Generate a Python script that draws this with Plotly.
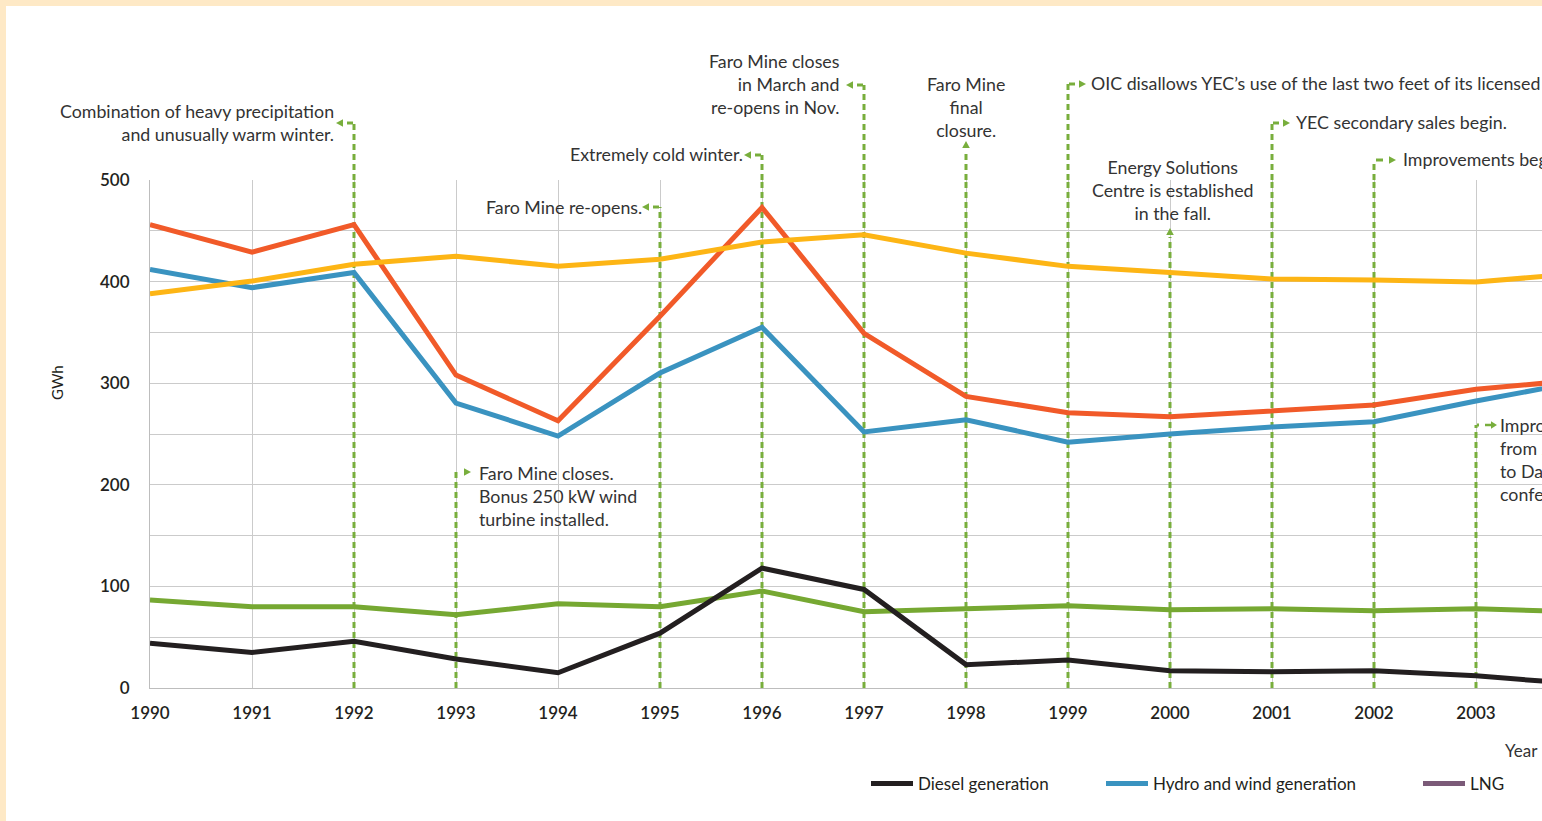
import plotly.graph_objects as go

# ---------------- data ----------------
years = [1990, 1991, 1992, 1993, 1994, 1995, 1996, 1997, 1998, 1999, 2000, 2001, 2002, 2003, 2004]
diesel = [44, 35, 46, 28.5, 15, 54, 118, 97, 23, 27.5, 17, 16, 17, 12, 4]
hydro_wind = [412, 394, 409, 280.5, 248, 310, 355, 252, 264, 242, 250, 257, 262, 282.5, 301]
lng = [None, None, None, None, None, None, None, None, None, None, None, None, None, None, None]
total_generation = [456, 429, 456, 308, 263, 366, 473, 349, 287, 271, 267, 273, 278.5, 294, 303]
yellow_series = [388, 400.5, 417, 425, 415, 422, 439, 446, 428, 415, 409, 402.5, 401.5, 399.5, 408]
green_series = [86.6, 80, 80, 72, 83, 80, 95.5, 75, 78, 81, 77, 78, 76, 78, 75]

y_tick_values = [0, 100, 200, 300, 400, 500]
x_tick_values = [1990, 1991, 1992, 1993, 1994, 1995, 1996, 1997, 1998, 1999, 2000, 2001, 2002, 2003]

event_years = [1992, 1993, 1995, 1996, 1997, 1998, 1999, 2000, 2001, 2002, 2003]
event_texts = [
    "Combination of heavy precipitation<br>and unusually warm winter.",
    "Faro Mine closes.<br>Bonus 250 kW wind<br>turbine installed.",
    "Faro Mine re-opens.",
    "Extremely cold winter.",
    "Faro Mine closes<br>in March and<br>re-opens in Nov.",
    "Faro Mine<br>final<br>closure.",
    "OIC disallows YEC\u2019s use of the last two feet of its licensed storage.",
    "Energy Solutions<br>Centre is established<br>in the fall.",
    "YEC secondary sales begin.",
    "Improvements begin.",
    "Improvements<br>from 2003<br>to Dawson<br>conference.",
]

# ---------------- layout geometry (pixels) ----------------
W, H = 1542, 821
PL, PR, PT, PB = 150, 1542, 180, 688
X0 = 1990
PX_PER_YEAR = 102.0
X1 = X0 + (PR - PL) / PX_PER_YEAR
Y_MAX = 500

def py2paper(py):
    return (PB - py) / (PB - PT)

def px2paper(px):
    return (px - PL) / (PR - PL)

def dyr(dpx):
    return dpx / PX_PER_YEAR

# per-event drawing style: (top of line px, arrow direction, text x offset px, text anchor, text center y px)
event_style = [
    (123, "left", -18, "right", 123),
    (471, "right0", 21, "left", 496),
    (207, "left", -16, "right", 207),
    (155, "left", -17, "right", 154),
    (85, "left", -23, "right", 84.5),
    (150, "up", 0, "center", 106.5),
    (84, "right", 21, "left", 83),
    (237, "up", 3, "center", 190.5),
    (123, "right", 22, "left", 122),
    (160, "right2", 27, "left", 159),
    (425, "rightsolid", 22, "left", 459),
]

GREEN_DASH = "#78AE3C"
TEXT_COLOR = "#333333"
FONT = "Lato"
ANN_SIZE = 17.8
DASH = dict(color=GREEN_DASH, width=3, dash="6px,4px")

fig = go.Figure()

fig.add_trace(go.Scatter(x=years, y=hydro_wind, mode="lines", name="Hydro and wind generation",
                         line=dict(color="#3A93C0", width=5), legend="legend2"))
fig.add_trace(go.Scatter(x=years, y=total_generation, mode="lines", name="Total generation",
                         line=dict(color="#F15A29", width=5), showlegend=False))
fig.add_trace(go.Scatter(x=years, y=yellow_series, mode="lines", name="Series 5",
                         line=dict(color="#FDB515", width=5), showlegend=False))
fig.add_trace(go.Scatter(x=years, y=green_series, mode="lines", name="Series 6",
                         line=dict(color="#76A832", width=5), showlegend=False))
fig.add_trace(go.Scatter(x=years, y=diesel, mode="lines", name="Diesel generation",
                         line=dict(color="#231F20", width=5), legend="legend"))
fig.add_trace(go.Scatter(x=years, y=lng, mode="lines", name="LNG",
                         line=dict(color="#7B5A78", width=5), legend="legend3"))

LAYER = "between"
shapes = []
annotations = []
for yr, txt, (top, direction, tx, anchor, ty) in zip(event_years, event_texts, event_style):
    ytop = py2paper(top)
    # vertical dashed guide: inside the plot area on data axes (drawn between grid and traces)
    if top >= PT:
        shapes.append(dict(type="line", xref="x", yref="y", x0=yr, x1=yr, y0=0, y1=ytop * Y_MAX,
                           line=DASH, layer=LAYER))
    else:
        shapes.append(dict(type="line", xref="x", yref="y", x0=yr, x1=yr, y0=0, y1=Y_MAX,
                           line=DASH, layer=LAYER))
        shapes.append(dict(type="line", xref="x", yref="paper", x0=yr, x1=yr, y0=1, y1=ytop,
                           line=DASH, layer="above"))
    h = 3.8 / (PB - PT)
    if direction == "left":
        shapes.append(dict(type="line", xref="x", yref="paper", x0=yr - dyr(1), x1=yr - dyr(7),
                           y0=ytop, y1=ytop, line=dict(color=GREEN_DASH, width=3), layer="above"))
        b, t = yr - dyr(11), yr - dyr(18)
        shapes.append(dict(type="path", xref="x", yref="paper",
                           path=f"M{b},{ytop + h} L{t},{ytop} L{b},{ytop - h} Z",
                           fillcolor=GREEN_DASH, line=dict(width=0), layer="above"))
    elif direction in ("right", "right2", "rightsolid"):
        if direction == "right":
            d0, d1, b, t = 1, 7, 11, 18
        elif direction == "right2":
            d0, d1, b, t = 2, 9, 15, 22
        else:
            d0, d1, b, t = 1, 16, 15, 21
        if direction == "rightsolid":
            shapes.append(dict(type="line", xref="x", yref="paper", x0=yr + dyr(d0), x1=yr + dyr(3),
                               y0=ytop, y1=ytop, line=dict(color=GREEN_DASH, width=3), layer="above"))
            shapes.append(dict(type="line", xref="x", yref="paper", x0=yr + dyr(9), x1=yr + dyr(16),
                               y0=ytop, y1=ytop, line=dict(color=GREEN_DASH, width=2.5), layer="above"))
        else:
            shapes.append(dict(type="line", xref="x", yref="paper", x0=yr + dyr(d0), x1=yr + dyr(d1),
                               y0=ytop, y1=ytop, line=dict(color=GREEN_DASH, width=3), layer="above"))
        bx, tx_ = yr + dyr(b), yr + dyr(t)
        shapes.append(dict(type="path", xref="x", yref="paper",
                           path=f"M{bx},{ytop + h} L{tx_},{ytop} L{bx},{ytop - h} Z",
                           fillcolor=GREEN_DASH, line=dict(width=0), layer="above"))
    elif direction == "right0":
        bx, tx_ = yr + dyr(8), yr + dyr(15)
        yy = py2paper(top + 1)
        shapes.append(dict(type="path", xref="x", yref="paper",
                           path=f"M{bx},{yy + h} L{tx_},{yy} L{bx},{yy - h} Z",
                           fillcolor=GREEN_DASH, line=dict(width=0), layer="above"))
    elif direction == "up":
        hw = dyr(3.8)
        tip = py2paper(top - 9)
        base = py2paper(top - 2)
        shapes.append(dict(type="path", xref="x", yref="paper",
                           path=f"M{yr - hw},{base} L{yr},{tip} L{yr + hw},{base} Z",
                           fillcolor=GREEN_DASH, line=dict(width=0), layer="above"))
    annotations.append(dict(x=yr, xref="x", xshift=tx, y=py2paper(ty), yref="paper",
                            text=txt, showarrow=False, xanchor=anchor, yanchor="middle",
                            align=anchor, font=dict(family=FONT, size=ANN_SIZE, color=TEXT_COLOR)))

# cream frame on top and left edges
CREAM = "#FEE9C6"
shapes.append(dict(type="rect", xref="paper", yref="paper", x0=px2paper(-2), x1=px2paper(W + 10),
                   y0=py2paper(6), y1=py2paper(-2), fillcolor=CREAM, line=dict(width=0), layer="above"))
shapes.append(dict(type="rect", xref="paper", yref="paper", x0=px2paper(-2), x1=px2paper(6),
                   y0=py2paper(H + 2), y1=py2paper(-2), fillcolor=CREAM, line=dict(width=0), layer="above"))

annotations.append(dict(x=1, xref="paper", xshift=-2, y=py2paper(750), yref="paper", text="Year",
                        showarrow=False, xanchor="right", yanchor="middle",
                        font=dict(family=FONT, size=17, color=TEXT_COLOR)))
annotations.append(dict(x=px2paper(57), xref="paper", y=py2paper(383), yref="paper", text="GWh",
                        showarrow=False, textangle=-90, xanchor="center", yanchor="middle",
                        font=dict(family=FONT, size=15, color="#231F20")))

legend_common = dict(orientation="h", yanchor="middle", xanchor="left", itemwidth=42,
                     bgcolor="rgba(0,0,0,0)", font=dict(family=FONT, size=17, color="#231F20"))

fig.update_layout(
    width=W, height=H,
    margin=dict(l=PL, r=W - PR, t=PT, b=H - PB, pad=0),
    paper_bgcolor="white", plot_bgcolor="white",
    font=dict(family=FONT, color="#231F20"),
    xaxis=dict(range=[X0, X1], tickvals=x_tick_values, showgrid=True, gridcolor="#CBCBCB", gridwidth=1,
               showline=True, linecolor="#BDBDBD", linewidth=1, zeroline=False, ticks="",
               ticklabelstandoff=10, tickfont=dict(family=FONT, size=17, color="#231F20", weight=600)),
    yaxis=dict(range=[0, Y_MAX], tickvals=y_tick_values, showgrid=True, gridcolor="#CBCBCB", gridwidth=1,
               minor=dict(dtick=50, showgrid=True, gridcolor="#CBCBCB", gridwidth=1),
               showline=True, linecolor="#BDBDBD", linewidth=1, zeroline=False, ticks="",
               ticklabelstandoff=16, tickfont=dict(family=FONT, size=17, color="#231F20", weight=600)),
    legend=dict(x=px2paper(866), y=py2paper(784), **legend_common),
    legend2=dict(x=px2paper(1101), y=py2paper(784), **legend_common),
    legend3=dict(x=px2paper(1418), y=py2paper(784), **legend_common),
    shapes=shapes,
    annotations=annotations,
)

fig.write_html("out.html", config={"displayModeBar": False},
               post_script="document.body.style.margin='0';document.body.style.padding='0';"
                           "document.body.style.overflow='hidden';")
